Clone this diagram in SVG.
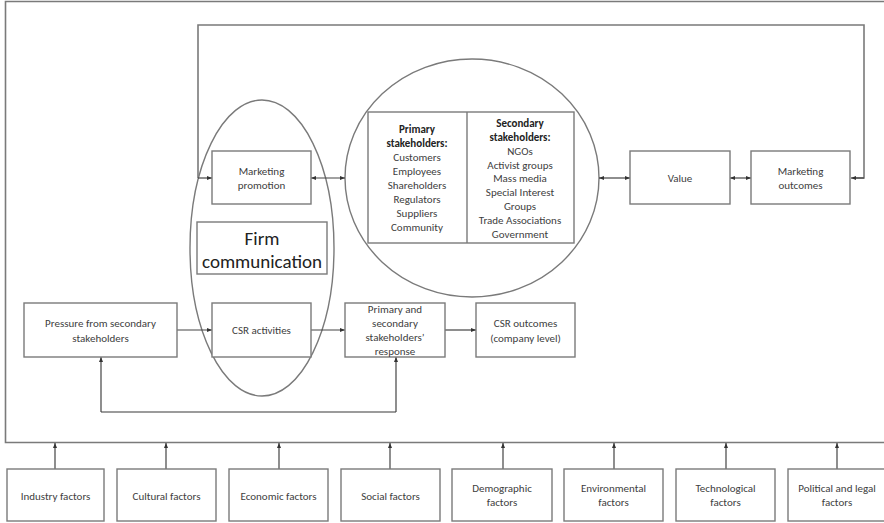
<svg xmlns="http://www.w3.org/2000/svg" width="884" height="523" viewBox="0 0 884 523">
<defs>
<marker id="ah" viewBox="0 0 10 10" refX="10" refY="5" markerWidth="5" markerHeight="5" orient="auto-start-reverse" markerUnits="userSpaceOnUse">
<path d="M0,1 L10,5 L0,9 z" fill="#333"/>
</marker>
<style>
.b{fill:#fff;stroke:#7a7a7a;stroke-width:1.4}
.o{fill:none;stroke:#7a7a7a;stroke-width:1.4}
.c{fill:none;stroke:#444;stroke-width:1.2}
.l{fill:none;stroke:#7a7a7a;stroke-width:1.6}
text{font-family:Carlito,Lato,"Liberation Sans",sans-serif;font-size:11px;fill:#404040;text-anchor:middle}
.bold{font-weight:bold;fill:#222}
.big{font-size:19px;fill:#222}
</style>
</defs>
<rect width="884" height="523" fill="#fff"/>
<g id="frame">
<polyline class="l" points="884,1.5 5.5,1.5 5.5,442.5 884,442.5"/>
</g>
<g id="firm-ellipse"><ellipse class="o" cx="262" cy="248" rx="72" ry="148"/></g>
<g id="stakeholder-circle"><ellipse class="o" cx="472" cy="178" rx="127" ry="119"/></g>
<g id="connectors">
<polyline class="l" points="198,178 198,25 864,25 864,178 854,178"/>
<line class="c" x1="198" y1="178" x2="212" y2="178" marker-end="url(#ah)"/>
<line class="c" x1="864" y1="178" x2="851" y2="178" marker-end="url(#ah)"/>
<line class="c" x1="311" y1="178" x2="345" y2="178" marker-start="url(#ah)" marker-end="url(#ah)"/>
<line class="c" x1="599" y1="178" x2="630" y2="178" marker-start="url(#ah)" marker-end="url(#ah)"/>
<line class="c" x1="730" y1="178" x2="751" y2="178" marker-start="url(#ah)" marker-end="url(#ah)"/>
<line class="c" x1="177" y1="330" x2="212" y2="330" marker-end="url(#ah)"/>
<line class="c" x1="311" y1="330" x2="345" y2="330" marker-end="url(#ah)"/>
<line class="c" x1="445" y1="330" x2="476" y2="330" marker-end="url(#ah)"/>
<polyline class="o" points="101,412 396,412"/>
<line class="c" x1="101" y1="412" x2="101" y2="357" marker-end="url(#ah)"/>
<line class="c" x1="396" y1="412" x2="396" y2="357" marker-end="url(#ah)"/>
<line class="c" x1="55" y1="469" x2="55" y2="443" marker-end="url(#ah)"/>
<line class="c" x1="166" y1="469" x2="166" y2="443" marker-end="url(#ah)"/>
<line class="c" x1="279" y1="469" x2="279" y2="443" marker-end="url(#ah)"/>
<line class="c" x1="390" y1="469" x2="390" y2="443" marker-end="url(#ah)"/>
<line class="c" x1="503" y1="469" x2="503" y2="443" marker-end="url(#ah)"/>
<line class="c" x1="614" y1="469" x2="614" y2="443" marker-end="url(#ah)"/>
<line class="c" x1="726" y1="469" x2="726" y2="443" marker-end="url(#ah)"/>
<line class="c" x1="837" y1="469" x2="837" y2="443" marker-end="url(#ah)"/>
</g>
<g id="marketing-promotion">
<rect class="b" x="212" y="151" width="99" height="53"/>
<text x="261.5" y="175">Marketing</text>
<text x="261.5" y="189">promotion</text>
</g>
<g id="firm-communication">
<rect class="b" x="197" y="222" width="130" height="52"/>
<text class="big" x="262" y="245">Firm</text>
<text class="big" x="262" y="268">communication</text>
</g>
<g id="csr-activities">
<rect class="b" x="212" y="303" width="99" height="54"/>
<text x="261.5" y="334">CSR activities</text>
</g>
<g id="pressure">
<rect class="b" x="24" y="303" width="153" height="54"/>
<text x="100.5" y="327">Pressure from secondary</text>
<text x="100.5" y="342">stakeholders</text>
</g>
<g id="stakeholders-response">
<rect class="b" x="345" y="303" width="100" height="54"/>
<text x="395" y="313">Primary and</text>
<text x="395" y="327">secondary</text>
<text x="395" y="341">stakeholders’</text>
<text x="395" y="355">response</text>
</g>
<g id="csr-outcomes">
<rect class="b" x="476" y="303" width="99" height="54"/>
<text x="525.5" y="327">CSR outcomes</text>
<text x="525.5" y="342">(company level)</text>
</g>
<g id="stakeholders">
<rect class="b" x="368" y="112" width="206" height="131"/>
<line class="o" x1="467" y1="112" x2="467" y2="243"/>
<text class="bold" x="417" y="133">Primary</text>
<text class="bold" x="417" y="147">stakeholders:</text>
<text x="417" y="161">Customers</text>
<text x="417" y="175">Employees</text>
<text x="417" y="189">Shareholders</text>
<text x="417" y="203">Regulators</text>
<text x="417" y="217">Suppliers</text>
<text x="417" y="231">Community</text>
<text class="bold" x="520" y="127">Secondary</text>
<text class="bold" x="520" y="141">stakeholders:</text>
<text x="520" y="155">NGOs</text>
<text x="520" y="169">Activist groups</text>
<text x="520" y="182">Mass media</text>
<text x="520" y="196">Special Interest</text>
<text x="520" y="210">Groups</text>
<text x="520" y="224">Trade Associations</text>
<text x="520" y="238">Government</text>
</g>
<g id="value">
<rect class="b" x="630" y="151" width="100" height="53"/>
<text x="680" y="182">Value</text>
</g>
<g id="marketing-outcomes">
<rect class="b" x="751" y="151" width="99" height="53"/>
<text x="800.5" y="175">Marketing</text>
<text x="800.5" y="189">outcomes</text>
</g>
<g id="industry"><rect class="b" x="7" y="469" width="97" height="52"/><text x="55.5" y="500">Industry factors</text></g>
<g id="cultural"><rect class="b" x="117" y="469" width="99" height="52"/><text x="166.5" y="500">Cultural factors</text></g>
<g id="economic"><rect class="b" x="229" y="469" width="99" height="52"/><text x="278.5" y="500">Economic factors</text></g>
<g id="social"><rect class="b" x="341" y="469" width="99" height="52"/><text x="390.5" y="500">Social factors</text></g>
<g id="demographic"><rect class="b" x="452" y="469" width="100" height="52"/><text x="502" y="492">Demographic</text><text x="502" y="506">factors</text></g>
<g id="environmental"><rect class="b" x="564" y="469" width="99" height="52"/><text x="613.5" y="492">Environmental</text><text x="613.5" y="506">factors</text></g>
<g id="technological"><rect class="b" x="676" y="469" width="99" height="52"/><text x="725.5" y="492">Technological</text><text x="725.5" y="506">factors</text></g>
<g id="political"><rect class="b" x="788" y="469" width="100" height="52"/><text x="837" y="492">Political and legal</text><text x="837" y="506">factors</text></g>
</svg>
